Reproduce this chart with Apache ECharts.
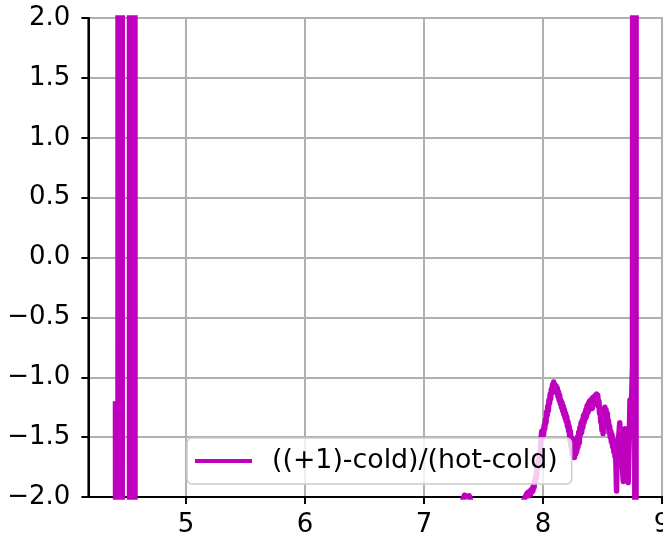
<!DOCTYPE html>
<html>
<head>
<meta charset="utf-8">
<script src="https://cdn.jsdelivr.net/npm/echarts@6/dist/echarts.min.js"></script>
<style>
html,body{margin:0;padding:0;background:#fff;}
#chart{width:663px;height:540px;}
</style>
</head>
<body>
<div id="chart"></div>
<script>
// ---- data ----
const seriesName = '((+1)-cold)/(hot-cold)';
const xTicks = [5, 6, 7, 8, 9];
const yTicks = [-2.0, -1.5, -1.0, -0.5, 0.0, 0.5, 1.0, 1.5, 2.0];
const xs = [
  4.4076, 4.4244, 4.4328, 4.4454, 4.4538, 4.4622, 4.4664,
  4.5210, 4.5294, 4.5420, 4.5546, 4.5672, 4.5756,
  4.70, 5.20, 6.00, 6.80, 7.25, 7.32, 7.34, 7.36, 7.38, 7.40, 7.55, 7.75, 7.83,
  7.850, 7.855, 7.860, 7.865, 7.870, 7.875, 7.880, 7.885, 7.890, 7.895,
  7.900, 7.905, 7.910, 7.915, 7.920, 7.925, 7.930, 7.935, 7.940, 7.945,
  7.950, 7.955, 7.960, 7.965, 7.970, 7.975, 7.980, 7.985, 7.990, 7.995,
  8.000, 8.005, 8.010, 8.015, 8.020, 8.025, 8.030, 8.035, 8.040, 8.045,
  8.050, 8.055, 8.060, 8.065, 8.070, 8.075, 8.080, 8.085, 8.090, 8.095,
  8.100, 8.105, 8.110, 8.115, 8.120, 8.125, 8.130, 8.135, 8.140, 8.145,
  8.150, 8.155, 8.160, 8.165, 8.170, 8.175, 8.180, 8.185, 8.190, 8.195,
  8.200, 8.205, 8.210, 8.215, 8.220, 8.225, 8.230, 8.235, 8.240, 8.245,
  8.250, 8.255, 8.260, 8.265, 8.270, 8.275, 8.280, 8.285, 8.290, 8.295,
  8.300, 8.305, 8.310, 8.315, 8.320, 8.325, 8.330, 8.335, 8.340, 8.345,
  8.350, 8.355, 8.360, 8.365, 8.370, 8.375, 8.380, 8.385, 8.390, 8.395,
  8.400, 8.405, 8.410, 8.415, 8.420, 8.425, 8.430, 8.435, 8.440, 8.445,
  8.450, 8.455, 8.460, 8.465, 8.470, 8.475, 8.480, 8.485, 8.490, 8.495,
  8.500, 8.505, 8.510, 8.515, 8.520, 8.525, 8.530, 8.535, 8.540, 8.545,
  8.550, 8.555, 8.560, 8.565, 8.570, 8.575, 8.580, 8.585, 8.590, 8.595,
  8.600, 8.605, 8.610, 8.615, 8.618, 8.622, 8.628, 8.634, 8.640, 8.645,
  8.650, 8.655, 8.660, 8.665, 8.670, 8.675, 8.680, 8.685, 8.689, 8.694,
  8.700, 8.705, 8.710, 8.716, 8.720, 8.726, 8.731, 8.738, 8.752,
  8.7655, 8.777, 8.787
];
const ys = [
  -1.20, -30, 30, -30, 30, -30, 30,
  30, -30, 30, -30, 30, -30,
  -6, -3.5, -2.8, -2.3, -2.15, -2.05, -1.985, -1.995, -1.99, -2.06, -2.3, -2.2, -2.05,
  -2.00, -1.99, -2.01, -1.97, -1.99, -1.96, -1.99, -1.97, -1.95, -1.98,
  -1.94, -1.96, -1.93, -1.95, -1.90, -1.92, -1.86, -1.88, -1.82, -1.84,
  -1.77, -1.78, -1.70, -1.73, -1.64, -1.66, -1.55, -1.50, -1.45, -1.49,
  -1.44, -1.48, -1.40, -1.43, -1.35, -1.38, -1.29, -1.32, -1.24, -1.28,
  -1.19, -1.22, -1.14, -1.18, -1.10, -1.13, -1.06, -1.08, -1.04, -1.12,
  -1.06, -1.11, -1.07, -1.13, -1.09, -1.16, -1.12, -1.19, -1.15, -1.22,
  -1.19, -1.25, -1.21, -1.28, -1.24, -1.31, -1.27, -1.34, -1.30, -1.37,
  -1.33, -1.41, -1.37, -1.45, -1.41, -1.52, -1.45, -1.58, -1.50, -1.64,
  -1.56, -1.66, -1.58, -1.67, -1.56, -1.64, -1.52, -1.62, -1.50, -1.58,
  -1.46, -1.55, -1.42, -1.48, -1.38, -1.46, -1.36, -1.42, -1.32, -1.38,
  -1.30, -1.35, -1.27, -1.33, -1.24, -1.30, -1.22, -1.28, -1.20, -1.26,
  -1.19, -1.25, -1.18, -1.26, -1.17, -1.23, -1.16, -1.22, -1.15, -1.21,
  -1.14, -1.20, -1.15, -1.24, -1.20, -1.30, -1.26, -1.37, -1.32, -1.44,
  -1.36, -1.47, -1.34, -1.29, -1.25, -1.32, -1.27, -1.36, -1.30, -1.40,
  -1.36, -1.46, -1.41, -1.50, -1.45, -1.54, -1.48, -1.58, -1.52, -1.62,
  -1.56, -1.66, -1.62, -1.80, -1.95, -1.62, -1.72, -1.52, -1.45, -1.38,
  -1.55, -1.65, -1.58, -1.72, -1.80, -1.87, -1.62, -1.50, -1.43, -1.62,
  -1.70, -1.62, -1.80, -1.88, -1.70, -1.45, -1.19, -1.45, -0.90,
  30, -30, 30
];

const lineColor = '#bf00bf';
const FONT = 'DejaVu Sans';
const FS = 26;
const fmtY = v => (v < 0 ? '\u2212' : '') + Math.abs(v).toFixed(1);

const chart = echarts.init(document.getElementById('chart'), null, {renderer: 'canvas'});
chart.setOption({
  animation: false,
  backgroundColor: '#ffffff',
  grid: {
    left: 88.4, top: 18, right: -22.8, bottom: 43,
    outerBoundsMode: 'none', containLabel: false,
    show: true, borderColor: '#000', borderWidth: 2, backgroundColor: 'transparent'
  },
  legend: {
    left: 187, top: 438,
    orient: 'horizontal',
    padding: [8, 14, 8, 8],
    backgroundColor: 'rgba(255,255,255,0.8)',
    borderColor: '#cccccc', borderWidth: 1.5, borderRadius: 5,
    itemWidth: 57, itemHeight: 4,
    data: [{name: seriesName, icon: 'rect'}],
    textStyle: {fontFamily: FONT, fontSize: 26.8, color: '#000', padding: [0, 0, 0, 15], lineHeight: 30}
  },
  xAxis: {
    type: 'value', min: 4.18, max: 9.2,
    splitNumber: 5, minInterval: 1, maxInterval: 1,
    axisLine: {show: true, onZero: false, lineStyle: {color: '#000', width: 2}},
    axisTick: {show: true, length: 7, lineStyle: {color: '#000', width: 2}, customValues: xTicks},
    axisLabel: {show: true, margin: 15, fontFamily: FONT, fontSize: FS, color: '#000',
      customValues: xTicks, formatter: v => String(Math.round(v))},
    splitLine: {show: true, lineStyle: {color: '#b0b0b0', width: 2}}
  },
  yAxis: {
    type: 'value', min: -2, max: 2, interval: 0.5,
    axisLine: {show: true, onZero: false, lineStyle: {color: '#000', width: 2}},
    axisTick: {show: true, length: 7, lineStyle: {color: '#000', width: 2}},
    axisLabel: {show: true, margin: 18, fontFamily: FONT, fontSize: FS, color: '#000',
      customValues: yTicks, formatter: fmtY},
    splitLine: {show: true, lineStyle: {color: '#b0b0b0', width: 2}}
  },
  series: [{
    name: seriesName,
    type: 'line',
    data: xs.map((x, i) => [x, ys[i]]),
    symbol: 'none',
    showSymbol: false,
    clip: true,
    lineStyle: {color: lineColor, width: 5.5, join: 'round'},
    itemStyle: {color: lineColor},
    z: 2
  }]
});
</script>
</body>
</html>
